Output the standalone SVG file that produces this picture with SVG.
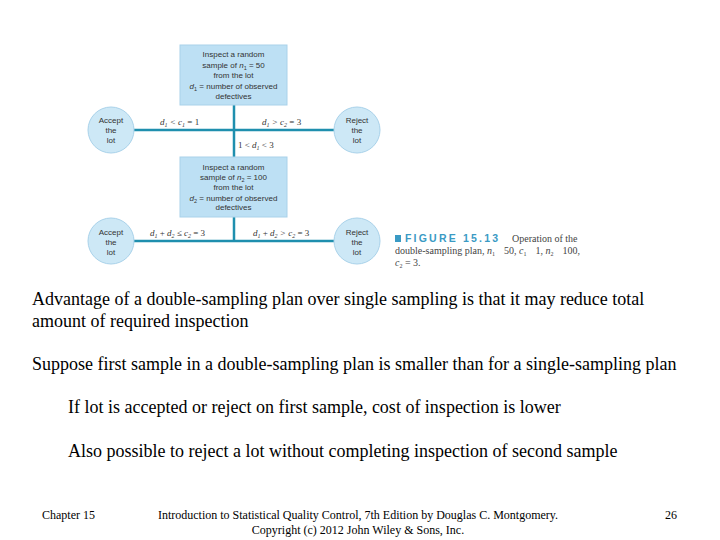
<svg xmlns="http://www.w3.org/2000/svg" width="720" height="540" viewBox="0 0 720 540">
<style>
.box{fill:#bde0f4;stroke:#a9d2ea;stroke-width:1}
.circ{fill:#cde8f6;stroke:#a9d2ea;stroke-width:1}
.ln{stroke:#1f8fae;stroke-width:2.5;fill:none}
.nt{font-family:"Liberation Sans",Arial,sans-serif;font-size:8px;fill:#333;text-anchor:middle}
.lb{font-family:"Liberation Serif","Times New Roman",serif;font-size:9px;fill:#333;font-style:italic}
.mt{font-family:"Liberation Serif","Times New Roman",serif;font-size:18px;fill:#000}
.ft{font-family:"Liberation Serif","Times New Roman",serif;font-size:12px;fill:#000}
.cap{font-family:"Liberation Serif","Times New Roman",serif;font-size:10px;fill:#444}
</style>
<rect width="720" height="540" fill="#fff"/>
<g id="connectors">
<line class="ln" x1="234" y1="105" x2="234" y2="157"/>
<line class="ln" x1="133" y1="130" x2="334" y2="130"/>
<line class="ln" x1="234" y1="217" x2="234" y2="241"/>
<line class="ln" x1="133" y1="241" x2="334" y2="241"/>
<text class="lb" x="160" y="125">d<tspan font-size="6" dy="2">1</tspan><tspan dy="-2"> &lt; c</tspan><tspan font-size="6" dy="2">1</tspan><tspan dy="-2" font-style="normal"> = 1</tspan></text>
<text class="lb" x="262" y="125">d<tspan font-size="6" dy="2">1</tspan><tspan dy="-2"> &gt; c</tspan><tspan font-size="6" dy="2">2</tspan><tspan dy="-2" font-style="normal"> = 3</tspan></text>
<text class="lb" x="238" y="148"><tspan font-style="normal">1 &lt; </tspan>d<tspan font-size="6" dy="2">1</tspan><tspan dy="-2" font-style="normal"> &lt; 3</tspan></text>
<text class="lb" x="150" y="236">d<tspan font-size="6" dy="2">1</tspan><tspan dy="-2" font-style="normal"> + </tspan>d<tspan font-size="6" dy="2">2</tspan><tspan dy="-2"> ≤ c</tspan><tspan font-size="6" dy="2">2</tspan><tspan dy="-2" font-style="normal"> = 3</tspan></text>
<text class="lb" x="253" y="236">d<tspan font-size="6" dy="2">1</tspan><tspan dy="-2" font-style="normal"> + </tspan>d<tspan font-size="6" dy="2">2</tspan><tspan dy="-2"> &gt; c</tspan><tspan font-size="6" dy="2">2</tspan><tspan dy="-2" font-style="normal"> = 3</tspan></text>
</g>
<g id="box1">
<rect class="box" x="180" y="45" width="107" height="60"/>
<text class="nt" x="233.5" y="57">Inspect a random</text>
<text class="nt" x="233.5" y="68">sample of <tspan font-style="italic">n</tspan><tspan font-size="5.5" dy="2">1</tspan><tspan dy="-2"> = 50</tspan></text>
<text class="nt" x="233.5" y="78">from the lot</text>
<text class="nt" x="233.5" y="89"><tspan font-style="italic">d</tspan><tspan font-size="5.5" dy="2">1</tspan><tspan dy="-2"> = number of observed</tspan></text>
<text class="nt" x="233.5" y="99">defectives</text>
</g>
<g id="box2">
<rect class="box" x="180" y="157" width="107" height="60"/>
<text class="nt" x="233.5" y="170">Inspect a random</text>
<text class="nt" x="233.5" y="180">sample of <tspan font-style="italic">n</tspan><tspan font-size="5.5" dy="2">2</tspan><tspan dy="-2"> = 100</tspan></text>
<text class="nt" x="233.5" y="190">from the lot</text>
<text class="nt" x="233.5" y="201"><tspan font-style="italic">d</tspan><tspan font-size="5.5" dy="2">2</tspan><tspan dy="-2"> = number of observed</tspan></text>
<text class="nt" x="233.5" y="210">defectives</text>
</g>
<g id="accept1">
<circle class="circ" cx="111" cy="130" r="23"/>
<text class="nt" x="111" y="123">Accept</text>
<text class="nt" x="111" y="133">the</text>
<text class="nt" x="111" y="143">lot</text>
</g>
<g id="reject1">
<circle class="circ" cx="357" cy="130" r="23"/>
<text class="nt" x="357" y="123">Reject</text>
<text class="nt" x="357" y="133">the</text>
<text class="nt" x="357" y="143">lot</text>
</g>
<g id="accept2">
<circle class="circ" cx="111" cy="241" r="23"/>
<text class="nt" x="111" y="235">Accept</text>
<text class="nt" x="111" y="245">the</text>
<text class="nt" x="111" y="255">lot</text>
</g>
<g id="reject2">
<circle class="circ" cx="357" cy="241" r="23"/>
<text class="nt" x="357" y="235">Reject</text>
<text class="nt" x="357" y="245">the</text>
<text class="nt" x="357" y="255">lot</text>
</g>
<g id="caption">
<rect x="395" y="235" width="6" height="7" fill="#3a9ac4"/>
<text x="405" y="242" font-family="Liberation Sans,Arial,sans-serif" font-size="10.5" font-weight="bold" fill="#3a9ac4" letter-spacing="2.2">FIGURE 15.13</text>
<text class="cap" x="512" y="242">Operation of the</text>
<text class="cap" x="395" y="254">double-sampling plan, <tspan font-style="italic">n</tspan><tspan font-size="6" dy="2">1</tspan><tspan dy="-2" dx="9">50, </tspan><tspan font-style="italic">c</tspan><tspan font-size="6" dy="2">1</tspan><tspan dy="-2" dx="9">1, </tspan><tspan font-style="italic">n</tspan><tspan font-size="6" dy="2">2</tspan><tspan dy="-2" dx="9">100,</tspan></text>
<text class="cap" x="395" y="266"><tspan font-style="italic">c</tspan><tspan font-size="6" dy="2">2</tspan><tspan dy="-2"> = 3.</tspan></text>
</g>
<g id="body">
<text class="mt" x="32" y="305">Advantage of a double-sampling plan over single sampling is that it may reduce total</text>
<text class="mt" x="32" y="327">amount of required inspection</text>
<text class="mt" x="32" y="370">Suppose first sample in a double-sampling plan is smaller than for a single-sampling plan</text>
<text class="mt" x="68" y="413">If lot is accepted or reject on first sample, cost of inspection is lower</text>
<text class="mt" x="68" y="457">Also possible to reject a lot without completing inspection of second sample</text>
</g>
<g id="footer">
<text class="ft" x="42" y="519">Chapter 15</text>
<text class="ft" x="358" y="519" text-anchor="middle">Introduction to Statistical Quality Control, 7th Edition by Douglas C. Montgomery.</text>
<text class="ft" x="358" y="534" text-anchor="middle">Copyright (c) 2012  John Wiley &amp; Sons, Inc.</text>
<text class="ft" x="677" y="519" text-anchor="end">26</text>
</g>
</svg>
